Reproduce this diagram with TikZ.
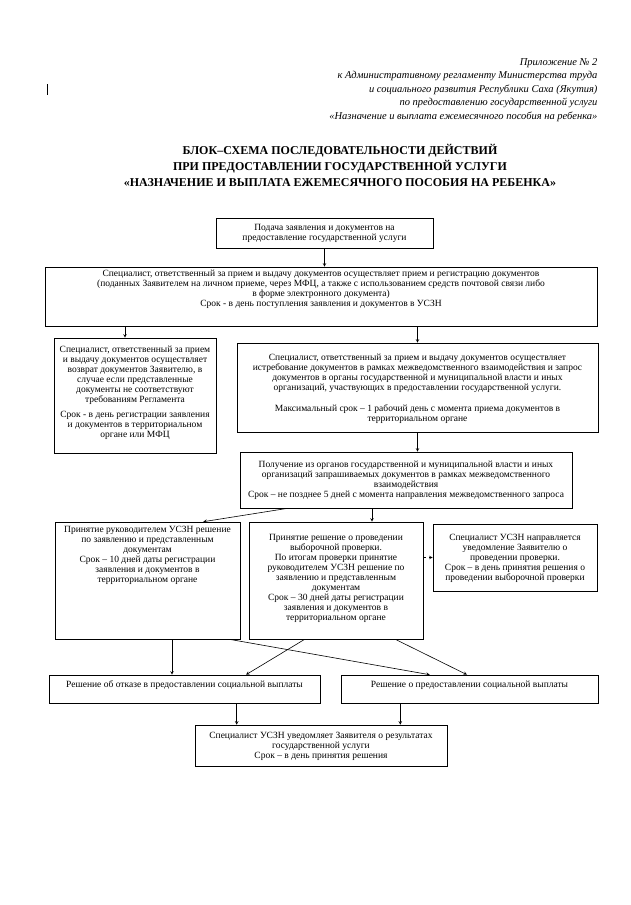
\documentclass[tikz,border=0pt]{standalone}
\usepackage{fontspec}
\setmainfont{Liberation Serif}
% text block of a box: width, height, lines (top aligned)
\newcommand{\blk}[3]{\begin{minipage}[c][#2pt][t]{#1pt}\centering #3\end{minipage}}

\begin{document}
\begin{tikzpicture}[>=stealth,x=1pt,y=-1pt,
  blok/.style={draw,line width=0.6pt,inner sep=0pt,font=\fontsize{9.5}{10}\selectfont},
  strelka/.style={->,line width=0.6pt}]
\useasboundingbox (0,0) rectangle (631,905);

\node[anchor=north east,align=right,font=\fontsize{10.5}{13.5}\selectfont\itshape] (prilozh) at (601,55)
 {Приложение № 2\\
  к Административному регламенту Министерства труда\\
  и социального развития Республики Саха (Якутия)\\
  по предоставлению государственной услуги\\
  «Назначение и выплата ежемесячного пособия на ребенка»};
\draw[line width=1pt](47,84)--(47,95);

\node[align=center,font=\fontsize{12}{16}\selectfont\bfseries] (zagolovok) at (340,165)
 {БЛОК–СХЕМА ПОСЛЕДОВАТЕЛЬНОСТИ ДЕЙСТВИЙ\\
  ПРИ ПРЕДОСТАВЛЕНИИ ГОСУДАРСТВЕННОЙ УСЛУГИ\\
  «НАЗНАЧЕНИЕ И ВЫПЛАТА ЕЖЕМЕСЯЧНОГО ПОСОБИЯ НА РЕБЕНКА»};

\node[blok,minimum width=217,minimum height=30] (podacha) at (324.5,233)
 {\blk{210}{18}{Подача заявления и документов на\\ предоставление государственной услуги}};
\node[blok,minimum width=552,minimum height=59] (priem) at (321,296.5)
 {\blk{545}{54}{Специалист, ответственный за прием и выдачу документов осуществляет прием и регистрацию документов\\
  (поданных Заявителем на личном приеме, через МФЦ, а также с использованием средств почтовой связи либо\\
  в форме электронного документа)\\
  Срок - в день поступления заявления и документов в УСЗН}};
\node[blok,minimum width=162,minimum height=115] (vozvrat) at (135,395.5)
 {\blk{158}{100}{Специалист, ответственный за прием\\ и выдачу документов осуществляет\\ возврат документов Заявителю, в\\
  случае если представленные\\ документы не соответствуют\\ требованиям Регламента\\[5pt]
  Срок - в день регистрации заявления\\ и документов в территориальном\\ органе или МФЦ}};
\node[blok,minimum width=361,minimum height=89] (zapros) at (417.5,387.5)
 {\blk{355}{68}{Специалист, ответственный за прием и выдачу документов осуществляет\\
  истребование документов в рамках межведомственного взаимодействия и запрос\\
  документов в органы государственной и муниципальной власти и иных\\
  организаций, участвующих в предоставлении государственной услуги.\\[11pt]
  Максимальный срок – 1 рабочий день с момента приема документов в\\ территориальном органе}};
\node[blok,minimum width=332,minimum height=56] (poluchenie) at (406,480)
 {\blk{326}{38}{Получение из органов государственной и муниципальной власти и иных\\
  организаций запрашиваемых документов в рамках межведомственного\\ взаимодействия\\
  Срок – не позднее 5 дней с момента направления межведомственного запроса}};
\node[blok,minimum width=185,minimum height=117] (reshenie) at (147.5,580.5)
 {\blk{180}{109}{Принятие руководителем УСЗН решение\\ по заявлению и представленным\\ документам\\
  Срок – 10 дней даты регистрации\\ заявления и документов в\\ территориальном органе}};
\node[blok,minimum width=174,minimum height=117] (proverka) at (336,580.5)
 {\blk{170}{93}{Принятие решение о проведении\\ выборочной проверки.\\ По итогам проверки принятие\\
  руководителем УСЗН решение по\\ заявлению и представленным\\ документам\\
  Срок – 30 дней даты регистрации\\ заявления и документов в\\ территориальном органе}};
\node[blok,minimum width=164,minimum height=67] (uvedomlenie) at (515,557.5)
 {\blk{160}{47}{Специалист УСЗН направляется\\ уведомление Заявителю о\\ проведении проверки.\\
  Срок – в день принятия решения о\\ проведении выборочной проверки}};
\node[blok,minimum width=271,minimum height=28] (otkaz) at (184.5,689)
 {\blk{265}{17}{Решение об отказе в предоставлении социальной выплаты}};
\node[blok,minimum width=257,minimum height=28] (vyplata) at (469.5,689)
 {\blk{250}{17}{Решение о предоставлении социальной выплаты}};
\node[blok,minimum width=252,minimum height=41] (itog) at (321,745.5)
 {\blk{246}{27}{Специалист УСЗН уведомляет Заявителя о результатах\\ государственной услуги\\ Срок – в день принятия решения}};

\draw[strelka](podacha.south)--(podacha.south|-priem.north);
\draw[strelka]([xshift=-10]vozvrat.north|-priem.south)--([xshift=-10]vozvrat.north);
\draw[strelka](zapros.north|-priem.south)--(zapros.north);
\draw[strelka](zapros.south)--(zapros.south|-poluchenie.north);
\draw[strelka]([xshift=48]poluchenie.south west)--([xshift=-37]reshenie.north east);
\draw[strelka]([xshift=-34]poluchenie.south)--([xshift=-34]poluchenie.south|-proverka.north);
\draw[strelka,dashed](proverka.east|-uvedomlenie.west)--(uvedomlenie.west);

\draw[strelka]([xshift=24.5]reshenie.south)--([xshift=24.5]reshenie.south|-otkaz.north);
\draw[strelka]([xshift=56]proverka.south west)--([xshift=61.5]otkaz.north);
\draw[strelka]([xshift=-11]reshenie.south east)--([xshift=89]vyplata.north west);
\draw[strelka]([xshift=-28]proverka.south east)--([xshift=-2.5]vyplata.north);

\draw[strelka]([xshift=42]itog.north west|-otkaz.south)--([xshift=42]itog.north west);
\draw[strelka]([xshift=-47]itog.north east|-vyplata.south)--([xshift=-47]itog.north east);

\end{tikzpicture}
\end{document}
